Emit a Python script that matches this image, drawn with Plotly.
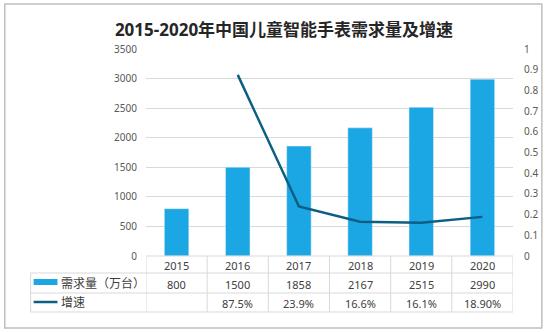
import plotly.graph_objects as go

years = [2015, 2016, 2017, 2018, 2019, 2020]
demand = [800, 1500, 1858, 2167, 2515, 2990]
growth_years = [2016, 2017, 2018, 2019, 2020]
growth = [0.875, 0.239, 0.166, 0.161, 0.189]
growth_labels = ["", "87.5%", "23.9%", "16.6%", "16.1%", "18.90%"]
left_ticks = [0, 500, 1000, 1500, 2000, 2500, 3000, 3500]
right_ticks = [0, 0.1, 0.2, 0.3, 0.4, 0.5, 0.6, 0.7, 0.8, 0.9, 1]
series_names = ["需求量（万台）", "增速"]
title_text = "2015-2020年中国儿童智能手表需求量及增速"

W, H = 550, 333
L, R, T, B = 146, 35, 49, 77
PW, PH = W - L - R, H - T - B

BAR_C = "#1aa7e4"
LINE_C = "#0c5f82"
GRID_C = "#d9d9d9"
TXT_C = "#404040"
FONT = "Noto Sans, Noto Sans CJK SC"


def px(x):
    return (x - L) / PW


def py(y):
    return (H - B - y) / PH


fig = go.Figure()
fig.add_trace(go.Bar(x=years, y=demand, marker_color=BAR_C, width=0.4,
                     name=series_names[0], showlegend=False))
fig.add_trace(go.Scatter(x=growth_years, y=growth, yaxis="y2", mode="lines",
                         line=dict(color=LINE_C, width=2.5),
                         name=series_names[1], showlegend=False))

shapes = []
# outer border
shapes.append(dict(type="rect", xref="paper", yref="paper",
                   x0=px(4), x1=px(544), y0=py(328), y1=py(4),
                   line=dict(color="#bfbfbf", width=1.5), layer="below"))
# table horizontal lines
for yy, x0 in [(256, 146), (273, 30), (293, 30), (312, 30)]:
    shapes.append(dict(type="line", xref="paper", yref="paper",
                       x0=px(x0), x1=px(515), y0=py(yy), y1=py(yy),
                       line=dict(color=GRID_C, width=1)))
# table vertical lines
shapes.append(dict(type="line", xref="paper", yref="paper",
                   x0=px(30), x1=px(30), y0=py(273), y1=py(312),
                   line=dict(color=GRID_C, width=1)))
for i in range(len(years) + 1):
    xv = years[0] - 0.5 + i
    shapes.append(dict(type="line", xref="x", yref="paper",
                       x0=xv, x1=xv, y0=py(256), y1=py(312),
                       line=dict(color=GRID_C, width=1)))
# legend keys in table
shapes.append(dict(type="rect", xref="paper", yref="paper",
                   x0=px(33), x1=px(57), y0=py(285), y1=py(279),
                   fillcolor=BAR_C, line=dict(width=0)))
shapes.append(dict(type="line", xref="paper", yref="paper",
                   x0=px(33), x1=px(57), y0=py(302), y1=py(302),
                   line=dict(color=LINE_C, width=2.5)))

ann = []
tf = dict(family=FONT, size=11, color=TXT_C)
for i, yv in enumerate(years):
    ann.append(dict(x=yv, xref="x", y=py(265), yref="paper", text=str(yv),
                    showarrow=False, font=tf, xanchor="center", yanchor="middle"))
    ann.append(dict(x=yv, xref="x", y=py(284), yref="paper", text=str(demand[i]),
                    showarrow=False, font=tf, xanchor="center", yanchor="middle"))
    ann.append(dict(x=yv, xref="x", y=py(303), yref="paper", text=growth_labels[i],
                    showarrow=False, font=tf, xanchor="center", yanchor="middle"))
ann.append(dict(x=px(59), xref="paper", y=py(283), yref="paper", text=series_names[0],
                showarrow=False, font=dict(family=FONT, size=12, color=TXT_C),
                xanchor="left", yanchor="middle"))
ann.append(dict(x=px(59), xref="paper", y=py(302), yref="paper", text=series_names[1],
                showarrow=False, font=dict(family=FONT, size=12, color=TXT_C),
                xanchor="left", yanchor="middle"))

fig.update_layout(
    width=W, height=H,
    margin=dict(l=L, r=R, t=T, b=B),
    paper_bgcolor="white", plot_bgcolor="white",
    title=dict(text="<b>" + title_text + "</b>", x=284 / W, xanchor="center",
               y=1 - 30 / H, yanchor="middle",
               font=dict(family=FONT, size=17, color="#262626")),
    xaxis=dict(range=[years[0] - 0.5, years[-1] + 0.5], showticklabels=False,
               showgrid=False, zeroline=False, showline=False, ticks="",
               fixedrange=True),
    yaxis=dict(range=[0, 3500], tickvals=left_ticks, showgrid=True,
               gridcolor=GRID_C, gridwidth=1, zeroline=False, showline=False,
               tickfont=dict(family=FONT, size=10, color="#595959"),
               ticklabelstandoff=8),
    yaxis2=dict(range=[0, 1], tickvals=right_ticks,
                ticktext=[("%g" % v) for v in right_ticks],
                overlaying="y", side="right", showgrid=False, zeroline=False,
                showline=False,
                tickfont=dict(family=FONT, size=10, color="#595959"),
                ticklabelstandoff=10),
    shapes=shapes, annotations=ann,
    bargap=0.6,
)

fig.write_html("out.html")
